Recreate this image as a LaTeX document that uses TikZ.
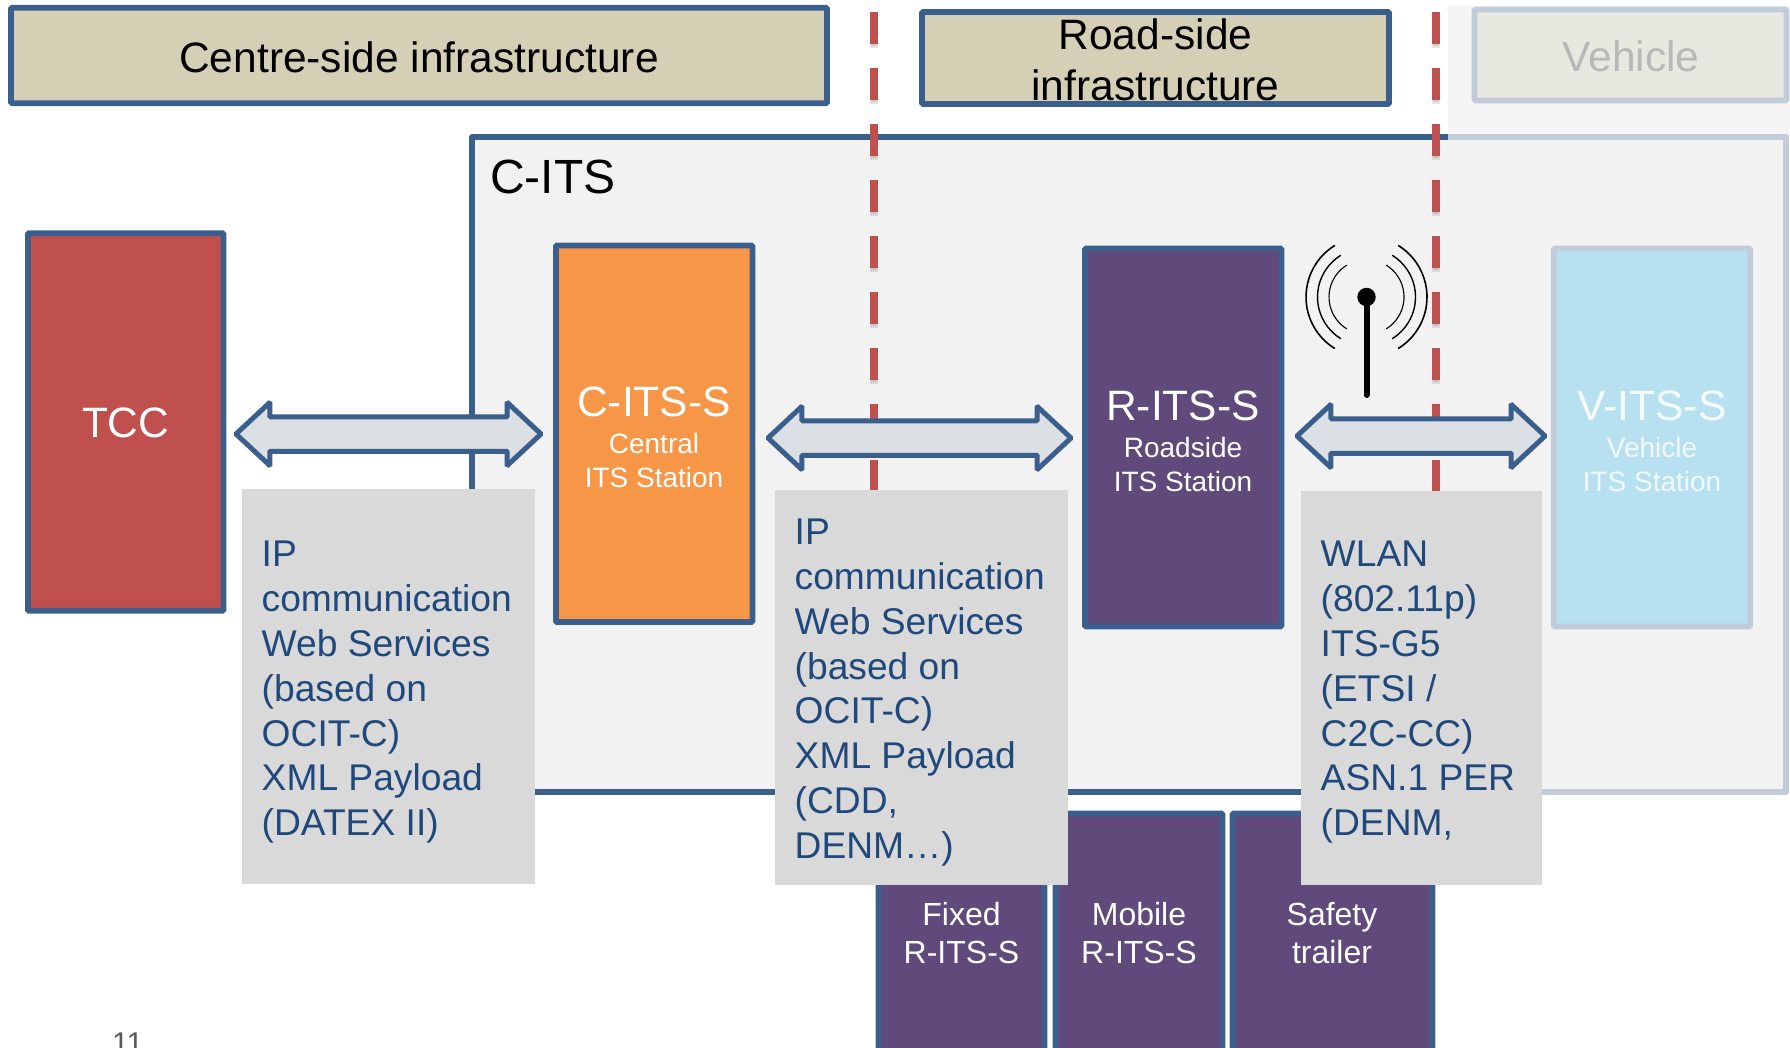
\documentclass[tikz,border=0pt]{standalone}
\usepackage{fontspec}
\setmainfont{Liberation Sans}
\usetikzlibrary{shapes.arrows}
\definecolor{bluel}{HTML}{3B5F8C}
\definecolor{fadel}{HTML}{C2CCD9}
\definecolor{tan1}{HTML}{D5CFB5}
\definecolor{tan2}{HTML}{E9E8E0}
\definecolor{redb}{HTML}{C0504D}
\definecolor{orng}{HTML}{F79646}
\definecolor{purp}{HTML}{604A7B}
\definecolor{sky}{HTML}{B7E1F1}
\definecolor{txtb}{HTML}{1F497D}
\definecolor{grayb}{HTML}{D9D9D9}
\definecolor{arrowf}{HTML}{DCDFE4}
\tikzset{
  x=1pt,y=-1pt,
  boxn/.style={draw=bluel,line width=5.6pt,rounded corners=1pt,inner sep=0pt,outer sep=0pt},
  fadebox/.style={boxn,draw=fadel},
  grayn/.style={fill=grayb,inner sep=0pt,outer sep=0pt},
  graytxt/.style={anchor=north west,inner sep=0pt,align=left,text=txtb,font=\fontsize{37.2pt}{44.8pt}\selectfont},
  bigl/.style={font=\fontsize{42.5pt}{51pt}\selectfont,align=center,inner sep=0pt},
  stn/.style={anchor=base,inner sep=0pt,text=white,font=\fontsize{42.5pt}{50pt}\selectfont},
  subn/.style={anchor=base,inner sep=0pt,text=white,font=\fontsize{28pt}{34pt}\selectfont},
  lown/.style={anchor=base,inner sep=0pt,text=white,font=\fontsize{32pt}{37.5pt}\selectfont},
  dbl/.style={shape=double arrow,draw=bluel,fill=arrowf,line width=5pt,rounded corners=1pt,inner sep=0pt,outer sep=0pt,
    text height=29.5pt,text depth=0pt,text width=0pt,minimum width=58pt,
    double arrow head extend=14.25pt,double arrow head indent=0pt,double arrow tip angle=86},
  dashr/.style={fill=redb},
  dashs/.style={fill=black,opacity=.10},
  wave/.style={draw=black,line cap=round}
}
\newcommand{\dashline}[1]{%
  \foreach \yy in {12,68,124,180,236,292,348,404,460}{%
    \fill[dashs] (#1-4,\yy+32) rectangle (#1+4,\yy+36);
    \fill[dashs] (#1-3,\yy+32) rectangle (#1+3,\yy+34);
    \fill[dashr] (#1-4.2,\yy) rectangle (#1+4.2,\yy+32);
  }}
\begin{document}
\begin{tikzpicture}
\useasboundingbox (0,0) rectangle (1790,1048);
\fill[white] (0,0) rectangle (1790,1048);
% faded overlay region (vehicle side)
\fill[black!4] (1448,6) rectangle (1790,137);
% C-ITS container
\fill[black!5] (472,137) rectangle (1786,792);
\draw[fadel,line width=5.5pt,line join=round] (1440,137) -- (1786,137) -- (1786,792) -- (1440,792);
\draw[bluel,line width=5.5pt,line join=round] (1448,137) -- (472,137) -- (472,792) -- (1448,792);
\node[anchor=base west,inner sep=0pt,font=\fontsize{48pt}{50pt}\selectfont] (citslabel) at (490,194) {C-ITS};
% header boxes
\node[boxn,fill=tan1,minimum width=816pt,minimum height=95.5pt] (centre) at (419,55.5) {};
\node[bigl] (centret) at (419,57.5) {Centre-side infrastructure};
\node[boxn,fill=tan1,minimum width=467pt,minimum height=92pt] (road) at (1155.5,58) {};
\node[bigl] (roadt) at (1155.5,60) {Road-side\\infrastructure};
\node[fadebox,fill=tan2,minimum width=312pt,minimum height=91pt] (veh) at (1630.5,55) {};
\node[bigl,text=black!28] (veht) at (1631,56) {Vehicle};
% boundary lines
\dashline{873.7}
\dashline{1436}
% stations
\node[boxn,fill=redb,minimum width=195.5pt,minimum height=377.5pt] (tcc) at (125.7,422) {};
\node[boxn,fill=orng,minimum width=196.5pt,minimum height=376.5pt] (cs) at (654.2,433.75) {};
\node[boxn,fill=purp,minimum width=196.5pt,minimum height=378pt] (rs) at (1183.2,437.5) {};
\node[fadebox,fill=sky,minimum width=196.5pt,minimum height=378pt] (vs) at (1652,437.5) {};
\node[stn] (tcct) at (125.7,437) {TCC};
\node[stn] (cst) at (654,416.5) {C-ITS-S};
\node[subn] (css1) at (654,453.5) {Central};
\node[subn] (css2) at (654,487.5) {ITS Station};
\node[stn] (rst) at (1183,420) {R-ITS-S};
\node[subn] (rss1) at (1183,457) {Roadside};
\node[subn] (rss2) at (1183,491) {ITS Station};
\node[stn,text=white!88!sky] (vst) at (1652,420) {V-ITS-S};
\node[subn,text=white!80!sky] (vss1) at (1652,457) {Vehicle};
\node[subn,text=white!80!sky] (vss2) at (1652,491) {ITS Station};
% antenna
\coordinate (ant) at (1366.5,297);
\draw[line width=6pt,line cap=round] (ant) -- (1366.5,395);
\fill (ant) circle[radius=9.2pt];
\foreach \r/\w in {60.5/1.6,49/1.4,37.5/1.1}{
  \draw[wave,line width=\w pt] ([shift={(122:\r pt)}]ant) arc[start angle=122,end angle=238,radius=\r pt];
  \draw[wave,line width=\w pt] ([shift={(58:\r pt)}]ant) arc[start angle=58,end angle=-58,radius=\r pt];
}
% bottom boxes
\node[boxn,fill=purp,minimum width=166pt,minimum height=300pt] (fx) at (961.5,963.5) {};
\node[boxn,fill=purp,minimum width=167pt,minimum height=300pt] (mb) at (1139,963.5) {};
\node[boxn,fill=purp,minimum width=200pt,minimum height=300pt] (sf) at (1332.5,963.5) {};
\node[lown] (fx1) at (961.5,925) {Fixed};
\node[lown] (fx2) at (961.5,963.5) {R-ITS-S};
\node[lown] (mb1) at (1139,925) {Mobile};
\node[lown] (mb2) at (1139,963.5) {R-ITS-S};
\node[lown] (sf1) at (1332,925) {Safety};
\node[lown] (sf2) at (1332,963.5) {trailer};
% double arrows
\node[dbl,minimum height=305pt] (a1) at (388.5,434) {};
\node[dbl,minimum height=303pt] (a2) at (919.5,438) {};
\node[dbl,minimum height=248pt] (a3) at (1421,436) {};
% info boxes
\node[grayn,minimum width=293pt,minimum height=395pt] (g1) at (388.5,686.5) {};
\node[grayn,minimum width=293pt,minimum height=395pt] (g2) at (921.5,687.5) {};
\node[grayn,minimum width=241pt,minimum height=394pt] (g3) at (1421.5,688) {};
\node[graytxt] (t1) at (261.5,541) {IP\\communication\\Web Services\\(based on\\OCIT-C)\\XML Payload\\(DATEX II)};
\node[graytxt] (t2) at (794.5,519) {IP\\communication\\Web Services\\(based on\\OCIT-C)\\XML Payload\\(CDD,\\DENM…)};
\node[graytxt] (t3) at (1320.5,541) {WLAN\\(802.11p)\\ITS-G5\\(ETSI /\\C2C-CC)\\ASN.1 PER\\(DENM,};
\node[anchor=base west,inner sep=0pt,font=\fontsize{30pt}{32pt}\selectfont,text=black!65] (pg) at (112,1053) {11};
\end{tikzpicture}
\end{document}
